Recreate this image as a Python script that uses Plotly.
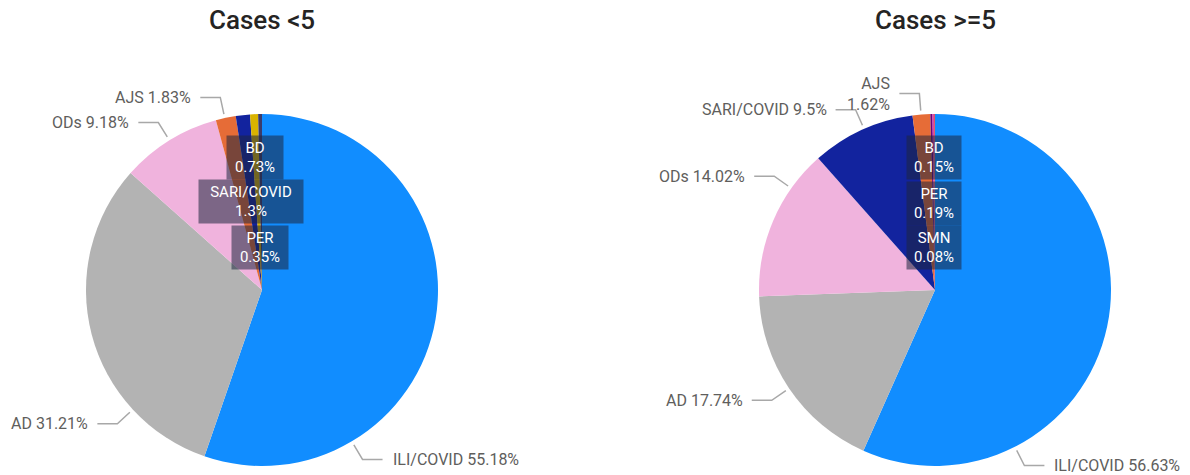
import math
import plotly.graph_objects as go

W, H = 1190, 475

# ---------------- data ----------------
titles = ["Cases <5", "Cases >=5"]
labels_lt5 = ["ILI/COVID", "AD", "ODs", "AJS", "SARI/COVID", "BD", "PER"]
values_lt5 = [55.18, 31.21, 9.18, 1.83, 1.3, 0.73, 0.35]
labels_ge5 = ["ILI/COVID", "AD", "ODs", "SARI/COVID", "AJS", "PER", "BD", "SMN"]
values_ge5 = [56.63, 17.74, 14.02, 9.5, 1.62, 0.19, 0.15, 0.08]

# ---------------- styles ----------------
colors_lt5 = ["#118DFF", "#B3B3B3", "#F0B3DD", "#E66C37", "#12239E", "#D9B300", "#3B3B6B"]
colors_ge5 = ["#118DFF", "#B3B3B3", "#F0B3DD", "#12239E", "#E66C37", "#6B007B", "#E044A7", "#D64550"]

FONT = "Roboto"
LABEL_COLOR = "#605E5C"
LINE_COLOR = "#A8A8A8"
R = 176
centers = [(262, 290), (935, 290)]

# outside labels: (label, fraction within slice for leader attach, side)
outside_lt5 = [("ILI/COVID", 0.75, "right"), ("AD", 0.25, "left"),
               ("ODs", 0.50, "left"), ("AJS", 0.45, "left")]
outside_ge5 = [("ILI/COVID", 0.75, "right"), ("AD", 0.50, "left"),
               ("ODs", 0.74, "left"), ("SARI/COVID", 0.52, "left"),
               ("AJS", 0.48, "left", True)]
# inside boxed labels: (label, center px x, center px y, box width)
inside_lt5 = [("BD", 255, 158, 50), ("SARI/COVID", 251, 202, 98), ("PER", 260, 247, 50)]
inside_ge5 = [("BD", 934, 158, 48), ("PER", 934, 203, 48), ("SMN", 934, 247, 48)]


def px(x):
    return x / W


def py(y):
    return 1 - y / H


fig = go.Figure()
annotations = []
shapes = []

datasets = [(labels_lt5, values_lt5, colors_lt5, outside_lt5, inside_lt5),
            (labels_ge5, values_ge5, colors_ge5, outside_ge5, inside_ge5)]

for i, (labs, vals, cols, outs, ins) in enumerate(datasets):
    cx, cy = centers[i]
    fig.add_trace(go.Pie(
        labels=labs, values=vals, sort=False, direction="clockwise", rotation=0,
        marker=dict(colors=cols, line=dict(width=0)),
        textinfo="none", showlegend=False,
        hovertemplate="%{label}: %{value}%<extra></extra>",
        domain=dict(x=[px(cx - R), px(cx + R)], y=[py(cy + R), py(cy - R)]),
    ))
    annotations.append(dict(
        text=titles[i], x=px(cx), y=py(20), xref="paper", yref="paper",
        showarrow=False, xanchor="center", yanchor="middle",
        font=dict(family=FONT, size=26, color="#252423", weight=500)))

    total = sum(vals)
    starts = {}
    acc = 0.0
    for lab, v in zip(labs, vals):
        starts[lab] = (acc / total * 360, v / total * 360)
        acc += v
    valmap = dict(zip(labs, vals))

    for item in outs:
        lab, frac, side = item[0], item[1], item[2]
        two_line = len(item) > 3
        a0, aw = starts[lab]
        ang = math.radians(a0 + frac * aw)
        sx, sy = cx + (R + 4) * math.sin(ang), cy - (R + 4) * math.cos(ang)
        ex, ey = cx + (R + 21) * math.sin(ang), cy - (R + 21) * math.cos(ang)
        hx = ex + (20 if side == "right" else -20)
        shapes.append(dict(type="path", xref="paper", yref="paper",
                           path=f"M {px(sx)},{py(sy)} L {px(ex)},{py(ey)} L {px(hx)},{py(ey)}",
                           line=dict(color=LINE_COLOR, width=1.5)))
        v = valmap[lab]
        txt = f"{lab}<br>{v:g}%" if two_line else f"{lab} {v:g}%"
        tx = hx + (8 if side == "right" else -7)
        annotations.append(dict(
            text=txt, x=px(tx), y=py(ey), xref="paper", yref="paper",
            showarrow=False, xanchor="left" if side == "right" else "right",
            yanchor="middle", align="right" if side == "left" else "left",
            font=dict(family=FONT, size=16, color=LABEL_COLOR)))

    for lab, bx, by, bw in ins:
        annotations.append(dict(
            text=f"{lab}<br>{valmap[lab]:g}%", x=px(bx), y=py(by),
            xref="paper", yref="paper", showarrow=False,
            xanchor="center", yanchor="middle", align="center",
            width=bw, height=37, borderpad=3,
            bgcolor="rgba(30,38,62,0.55)",
            font=dict(family=FONT, size=15, color="white")))

fig.update_layout(
    width=W, height=H, margin=dict(l=0, r=0, t=0, b=0),
    paper_bgcolor="white", plot_bgcolor="white",
    annotations=annotations, shapes=shapes,
)

fig.write_html("out.html")
